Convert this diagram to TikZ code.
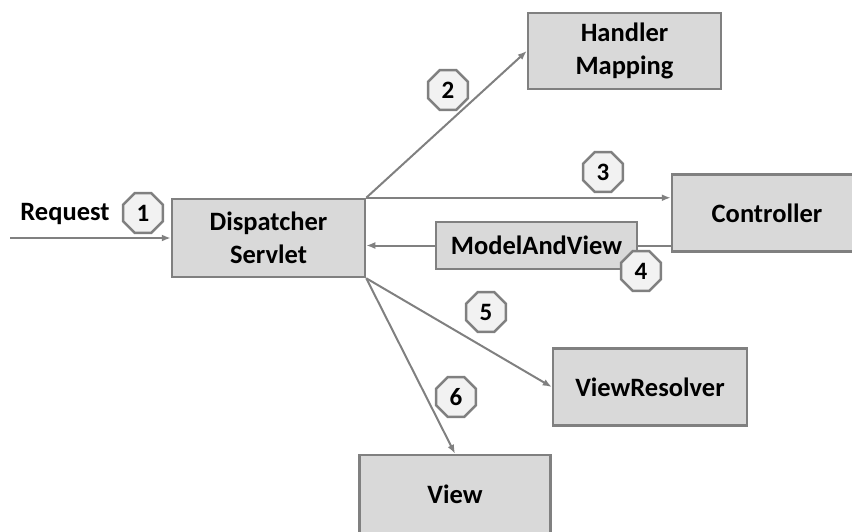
\documentclass[tikz,border=0pt]{standalone}
\usepackage{fontspec}
\setmainfont{Carlito}
\usetikzlibrary{arrows.meta}
\usetikzlibrary{shapes.geometric}
\definecolor{boxgray}{HTML}{D9D9D9}
\definecolor{linegray}{HTML}{808080}
\definecolor{badgefill}{HTML}{F2F2F2}
\tikzstyle{block}=[draw=linegray, fill=boxgray, line width=2.5pt, align=center, inner sep=0pt, font=\bfseries\fontsize{26.5}{33}\selectfont]
\tikzstyle{badge}=[regular polygon, regular polygon sides=8, draw=linegray, fill=badgefill, line width=2.5pt, minimum size=43pt, inner sep=0pt, font=\bfseries\fontsize{25}{25}\selectfont]
\tikzstyle{flow}=[draw=linegray, line width=2pt, -{Latex[length=9pt,width=7pt]}]

\begin{document}
\begin{tikzpicture}[x=1pt,y=-1pt]
      \useasboundingbox (0,0) rectangle (852,531);

      % boxes
      \node[block, minimum width=193pt, minimum height=78pt] (ds) at (268.5,238) {Dispatcher\\Servlet};
      \node[block, minimum width=193pt, minimum height=76pt] (hm) at (624.5,51) {Handler\\Mapping};
      \node[block, minimum width=190pt, minimum height=77pt] (ctrl) at (767,213) {Controller};
      \node[block, minimum width=201pt, minimum height=47pt] (mav) at (536.5,245.5) {ModelAndView};
      \node[block, minimum width=194pt, minimum height=77pt] (vr) at (650,387) {ViewResolver};
      \node[block, minimum width=191pt, minimum height=78pt] (view) at (455,494) {View};

      \coordinate (req) at (10,238);
      \node[font=\bfseries\fontsize{26.5}{26.5}\selectfont] (reqlabel) at (65,214) {Request};

      % connectors
      \draw[flow] (req) -- (ds.west);
      \draw[flow] (ds.north east) -- (hm.west);
      \draw[flow] (ds.north east) -- (ds.north east -| ctrl.west);
      \draw[draw=linegray, line width=2pt] (ctrl.west |- mav.east) -- (mav.east);
      \draw[flow] (mav.west) -- (ds.east |- mav.west);
      \draw[flow] (ds.south east) -- (vr.west);
      \draw[flow] (ds.south east) -- (view.north);

      % step numbers
      \foreach \n/\x/\y in {1/143/213, 2/448/90, 3/603/172, 4/641/271, 5/486/312, 6/456/397}
        \node[badge] (s\n) at (\x,\y) {\n};
\end{tikzpicture}
\end{document}
